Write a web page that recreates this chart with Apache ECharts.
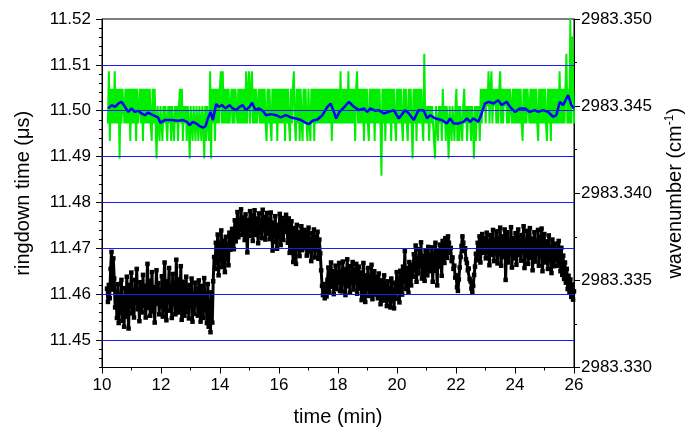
<!DOCTYPE html>
<html>
<head>
<meta charset="utf-8">
<title>ringdown time / wavenumber</title>
<script src="https://cdn.jsdelivr.net/npm/echarts@6/dist/echarts.min.js"></script>
<style>
  html, body { margin: 0; padding: 0; background: #fff; }
  #chart { width: 693px; height: 435px; }
</style>
</head>
<body>
<div id="chart"></div>
<script>
// axis ticks
const ringdownTicks = [11.45, 11.46, 11.47, 11.48, 11.49, 11.50, 11.51, 11.52]
const gridLevels = [11.45, 11.46, 11.47, 11.48, 11.49, 11.50, 11.51]

// ringdown time (μs), black squares, evenly sampled from ringdownStart (min)
const ringdownStart = 10.17
const ringdownStep = 0.0305
const ringdownTime = [
  11.4612, 11.4583, 11.4620, 11.4591, 11.4655, 11.4692, 11.4610, 11.4678, 11.4634, 11.4571, 11.4605, 11.4548, 11.4622, 11.4537, 11.4596, 11.4560, 11.4631, 11.4542, 11.4584, 11.4529,
  11.4613, 11.4551, 11.4638, 11.4572, 11.4525, 11.4620, 11.4589, 11.4647, 11.4558, 11.4603, 11.4549, 11.4631, 11.4580, 11.4655, 11.4567, 11.4610, 11.4541, 11.4626, 11.4594, 11.4560,
  11.4642, 11.4575, 11.4618, 11.4549, 11.4603, 11.4666, 11.4570, 11.4629, 11.4553, 11.4591, 11.4648, 11.4562, 11.4615, 11.4538, 11.4600, 11.4652, 11.4579, 11.4624, 11.4556, 11.4608,
  11.4573, 11.4639, 11.4551, 11.4617, 11.4669, 11.4586, 11.4543, 11.4628, 11.4597, 11.4657, 11.4564, 11.4611, 11.4548, 11.4644, 11.4580, 11.4622, 11.4556, 11.4675, 11.4593, 11.4560,
  11.4632, 11.4568, 11.4661, 11.4544, 11.4602, 11.4627, 11.4553, 11.4590, 11.4638, 11.4561, 11.4609, 11.4547, 11.4620, 11.4575, 11.4634, 11.4540, 11.4598, 11.4557, 11.4625, 11.4583,
  11.4612, 11.4553, 11.4630, 11.4571, 11.4540, 11.4618, 11.4589, 11.4548, 11.4635, 11.4566, 11.4601, 11.4537, 11.4622, 11.4529, 11.4585, 11.4517, 11.4604, 11.4538, 11.4628, 11.4681,
  11.4655, 11.4712, 11.4668, 11.4730, 11.4641, 11.4703, 11.4682, 11.4739, 11.4659, 11.4716, 11.4692, 11.4648, 11.4725, 11.4676, 11.4708, 11.4663, 11.4734, 11.4697, 11.4718, 11.4742,
  11.4742, 11.4698, 11.4761, 11.4715, 11.4733, 11.4779, 11.4724, 11.4758, 11.4741, 11.4785, 11.4729, 11.4767, 11.4748, 11.4718, 11.4774, 11.4736, 11.4691, 11.4762, 11.4727, 11.4781,
  11.4739, 11.4772, 11.4716, 11.4758, 11.4783, 11.4729, 11.4765, 11.4745, 11.4711, 11.4776, 11.4734, 11.4760, 11.4722, 11.4784, 11.4743, 11.4768, 11.4719, 11.4752, 11.4777, 11.4731,
  11.4762, 11.4720, 11.4778, 11.4741, 11.4695, 11.4756, 11.4732, 11.4770, 11.4714, 11.4699, 11.4751, 11.4728, 11.4775, 11.4707, 11.4745, 11.4766, 11.4718, 11.4759, 11.4736, 11.4773,
  11.4748, 11.4712, 11.4765, 11.4690, 11.4737, 11.4759, 11.4703, 11.4670, 11.4744, 11.4722, 11.4666, 11.4751, 11.4709, 11.4735, 11.4683, 11.4727, 11.4748, 11.4696, 11.4719, 11.4740,
  11.4701, 11.4738, 11.4684, 11.4722, 11.4745, 11.4693, 11.4716, 11.4672, 11.4733, 11.4707, 11.4741, 11.4680, 11.4725, 11.4698, 11.4736, 11.4677, 11.4719, 11.4689, 11.4652, 11.4618,
  11.4598, 11.4622, 11.4591, 11.4609, 11.4595, 11.4631, 11.4658, 11.4604, 11.4642, 11.4669, 11.4616, 11.4650, 11.4600, 11.4637, 11.4662, 11.4611, 11.4646, 11.4625, 11.4668, 11.4607,
  11.4648, 11.4606, 11.4671, 11.4629, 11.4654, 11.4598, 11.4640, 11.4676, 11.4617, 11.4661, 11.4603, 11.4645, 11.4632, 11.4670, 11.4610, 11.4653, 11.4624, 11.4666, 11.4601, 11.4639,
  11.4660, 11.4612, 11.4647, 11.4587, 11.4635, 11.4668, 11.4602, 11.4583, 11.4641, 11.4619, 11.4657, 11.4596, 11.4631, 11.4606, 11.4664, 11.4589, 11.4626, 11.4650, 11.4599, 11.4638,
  11.4622, 11.4591, 11.4645, 11.4603, 11.4578, 11.4630, 11.4612, 11.4586, 11.4641, 11.4597, 11.4619, 11.4574, 11.4628, 11.4593, 11.4608, 11.4571, 11.4634, 11.4587, 11.4600, 11.4569,
  11.4625, 11.4590, 11.4648, 11.4604, 11.4636, 11.4582, 11.4651, 11.4617, 11.4599, 11.4660, 11.4628, 11.4694, 11.4611, 11.4657, 11.4632, 11.4603, 11.4670, 11.4641, 11.4619, 11.4664,
  11.4638, 11.4687, 11.4652, 11.4706, 11.4627, 11.4675, 11.4645, 11.4698, 11.4661, 11.4713, 11.4634, 11.4684, 11.4658, 11.4629, 11.4695, 11.4668, 11.4641, 11.4703, 11.4650, 11.4679,
  11.4664, 11.4702, 11.4627, 11.4688, 11.4651, 11.4712, 11.4674, 11.4619, 11.4695, 11.4660, 11.4708, 11.4683, 11.4640, 11.4716, 11.4692, 11.4668, 11.4722, 11.4701, 11.4679, 11.4726,
  11.4712, 11.4690, 11.4701, 11.4672, 11.4680, 11.4655, 11.4662, 11.4636, 11.4641, 11.4615, 11.4607, 11.4632, 11.4658, 11.4681, 11.4705, 11.4726, 11.4712, 11.4694, 11.4700, 11.4676,
  11.4668, 11.4652, 11.4656, 11.4633, 11.4628, 11.4612, 11.4605, 11.4618, 11.4642, 11.4660, 11.4688, 11.4674, 11.4712, 11.4685, 11.4726, 11.4669, 11.4708, 11.4731, 11.4690, 11.4715,
  11.4722, 11.4678, 11.4734, 11.4696, 11.4715, 11.4663, 11.4729, 11.4705, 11.4686, 11.4740, 11.4672, 11.4711, 11.4693, 11.4737, 11.4667, 11.4720, 11.4699, 11.4745, 11.4662, 11.4708,
  11.4726, 11.4681, 11.4741, 11.4631, 11.4703, 11.4735, 11.4669, 11.4714, 11.4690, 11.4746, 11.4658, 11.4722, 11.4697, 11.4678, 11.4733, 11.4664, 11.4710, 11.4741, 11.4685, 11.4718,
  11.4673, 11.4729, 11.4692, 11.4748, 11.4657, 11.4716, 11.4685, 11.4738, 11.4666, 11.4705, 11.4744, 11.4679, 11.4721, 11.4652, 11.4700, 11.4735, 11.4671, 11.4713, 11.4689, 11.4740,
  11.4662, 11.4724, 11.4683, 11.4743, 11.4650, 11.4707, 11.4731, 11.4669, 11.4715, 11.4691, 11.4655, 11.4728, 11.4678, 11.4702, 11.4646, 11.4719, 11.4687, 11.4661, 11.4710, 11.4675,
  11.4698, 11.4662, 11.4716, 11.4673, 11.4650, 11.4701, 11.4642, 11.4684, 11.4633, 11.4669, 11.4625, 11.4655, 11.4611, 11.4640, 11.4603, 11.4632, 11.4594, 11.4621, 11.4588, 11.4606
]

// wavemeter reading (cm-1), green, evenly sampled from wavenumberStart (min)
const wavenumberStart = 10.2
const wavenumberStep = 0.033
const wavenumberRaw = [
  2983.344, 2983.347, 2983.343, 2983.346, 2983.344, 2983.346, 2983.344, 2983.347, 2983.344, 2983.346, 2983.344, 2983.346, 2983.342, 2983.346, 2983.344, 2983.346, 2983.345, 2983.344, 2983.346, 2983.344,
  2983.346, 2983.344, 2983.346, 2983.343, 2983.346, 2983.344, 2983.346, 2983.344, 2983.346, 2983.343, 2983.346, 2983.344, 2983.345, 2983.346, 2983.344, 2983.346, 2983.343, 2983.346, 2983.344, 2983.346,
  2983.344, 2983.346, 2983.344, 2983.346, 2983.344, 2983.343, 2983.346, 2983.344, 2983.346, 2983.344, 2983.342, 2983.345, 2983.344, 2983.343, 2983.345, 2983.344, 2983.343, 2983.345, 2983.344, 2983.345,
  2983.344, 2983.343, 2983.345, 2983.344, 2983.345, 2983.343, 2983.345, 2983.344, 2983.343, 2983.345, 2983.344, 2983.345, 2983.343, 2983.345, 2983.346, 2983.344, 2983.346, 2983.343, 2983.345, 2983.344,
  2983.345, 2983.343, 2983.345, 2983.344, 2983.342, 2983.345, 2983.344, 2983.343, 2983.345, 2983.344, 2983.343, 2983.345, 2983.344, 2983.343, 2983.345, 2983.344, 2983.343, 2983.345, 2983.344, 2983.342,
  2983.345, 2983.343, 2983.345, 2983.344, 2983.343, 2983.347, 2983.342, 2983.346, 2983.344, 2983.346, 2983.343, 2983.346, 2983.344, 2983.346, 2983.344, 2983.346, 2983.347, 2983.344, 2983.347, 2983.344,
  2983.346, 2983.344, 2983.346, 2983.344, 2983.346, 2983.344, 2983.345, 2983.346, 2983.344, 2983.346, 2983.344, 2983.346, 2983.345, 2983.344, 2983.346, 2983.344, 2983.346, 2983.344, 2983.346, 2983.344,
  2983.346, 2983.344, 2983.347, 2983.344, 2983.346, 2983.347, 2983.344, 2983.346, 2983.347, 2983.344, 2983.346, 2983.344, 2983.346, 2983.344, 2983.345, 2983.346, 2983.344, 2983.346, 2983.344, 2983.346,
  2983.344, 2983.346, 2983.344, 2983.343, 2983.346, 2983.344, 2983.346, 2983.344, 2983.343, 2983.346, 2983.344, 2983.346, 2983.344, 2983.346, 2983.343, 2983.346, 2983.344, 2983.346, 2983.344, 2983.346,
  2983.344, 2983.346, 2983.343, 2983.346, 2983.344, 2983.346, 2983.344, 2983.343, 2983.346, 2983.344, 2983.346, 2983.347, 2983.344, 2983.343, 2983.346, 2983.344, 2983.346, 2983.343, 2983.346, 2983.344,
  2983.343, 2983.346, 2983.344, 2983.346, 2983.344, 2983.343, 2983.346, 2983.344, 2983.343, 2983.346, 2983.344, 2983.346, 2983.343, 2983.346, 2983.344, 2983.346, 2983.344, 2983.346, 2983.344, 2983.346,
  2983.344, 2983.346, 2983.344, 2983.346, 2983.344, 2983.346, 2983.344, 2983.346, 2983.344, 2983.346, 2983.343, 2983.346, 2983.344, 2983.346, 2983.344, 2983.346, 2983.344, 2983.346, 2983.344, 2983.347,
  2983.344, 2983.346, 2983.344, 2983.346, 2983.344, 2983.346, 2983.344, 2983.347, 2983.344, 2983.346, 2983.344, 2983.346, 2983.344, 2983.346, 2983.343, 2983.346, 2983.347, 2983.344, 2983.346, 2983.344,
  2983.346, 2983.344, 2983.346, 2983.343, 2983.346, 2983.344, 2983.346, 2983.344, 2983.343, 2983.346, 2983.344, 2983.346, 2983.344, 2983.346, 2983.343, 2983.346, 2983.344, 2983.346, 2983.344, 2983.346,
  2983.344, 2983.341, 2983.346, 2983.344, 2983.346, 2983.343, 2983.346, 2983.344, 2983.346, 2983.344, 2983.346, 2983.343, 2983.346, 2983.344, 2983.346, 2983.344, 2983.343, 2983.346, 2983.344, 2983.346,
  2983.344, 2983.346, 2983.344, 2983.343, 2983.346, 2983.344, 2983.346, 2983.344, 2983.343, 2983.346, 2983.344, 2983.346, 2983.344, 2983.342, 2983.346, 2983.344, 2983.346, 2983.343, 2983.346, 2983.344,
  2983.346, 2983.344, 2983.346, 2983.344, 2983.343, 2983.348, 2983.344, 2983.345, 2983.344, 2983.345, 2983.343, 2983.345, 2983.344, 2983.345, 2983.344, 2983.343, 2983.342, 2983.345, 2983.344, 2983.343,
  2983.345, 2983.344, 2983.345, 2983.343, 2983.346, 2983.344, 2983.345, 2983.343, 2983.345, 2983.344, 2983.342, 2983.345, 2983.344, 2983.343, 2983.345, 2983.344, 2983.343, 2983.345, 2983.346, 2983.343,
  2983.345, 2983.343, 2983.345, 2983.344, 2983.343, 2983.345, 2983.346, 2983.344, 2983.345, 2983.343, 2983.345, 2983.344, 2983.345, 2983.343, 2983.345, 2983.344, 2983.342, 2983.345, 2983.343, 2983.345,
  2983.344, 2983.345, 2983.343, 2983.346, 2983.344, 2983.346, 2983.345, 2983.346, 2983.344, 2983.346, 2983.345, 2983.347, 2983.344, 2983.346, 2983.347, 2983.344, 2983.346, 2983.345, 2983.346, 2983.344,
  2983.346, 2983.344, 2983.346, 2983.347, 2983.344, 2983.346, 2983.344, 2983.346, 2983.345, 2983.346, 2983.344, 2983.346, 2983.344, 2983.346, 2983.345, 2983.344, 2983.346, 2983.344, 2983.346, 2983.344,
  2983.346, 2983.344, 2983.346, 2983.344, 2983.346, 2983.344, 2983.343, 2983.346, 2983.344, 2983.346, 2983.344, 2983.346, 2983.345, 2983.344, 2983.346, 2983.344, 2983.346, 2983.344, 2983.346, 2983.344,
  2983.346, 2983.344, 2983.343, 2983.346, 2983.344, 2983.346, 2983.344, 2983.346, 2983.344, 2983.346, 2983.344, 2983.343, 2983.346, 2983.344, 2983.346, 2983.343, 2983.346, 2983.344, 2983.346, 2983.344,
  2983.346, 2983.344, 2983.346, 2983.344, 2983.347, 2983.344, 2983.346, 2983.344, 2983.346, 2983.344, 2983.346, 2983.348, 2983.344, 2983.346, 2983.344, 2983.350, 2983.344, 2983.349, 2983.346, 2983.344
]

// running average of the wavemeter reading (blue)
const avgTime = [
  10.21, 10.33, 10.44, 10.55, 10.66, 10.78, 10.89, 11.00, 11.11, 11.23, 11.34, 11.45, 11.56, 11.73, 11.90, 11.98,
  12.13, 12.35, 12.58, 12.75, 12.88, 12.97, 13.08, 13.20, 13.31, 13.42, 13.51, 13.59, 13.68, 13.76, 13.87, 13.96,
  14.07, 14.19, 14.32, 14.43, 14.55, 14.66, 14.77, 14.88, 15.00, 15.09, 15.20, 15.31, 15.45, 15.56, 15.73, 15.90,
  16.06, 16.23, 16.40, 16.57, 16.74, 16.91, 17.02, 17.13, 17.30, 17.47, 17.64, 17.75, 17.86, 17.94, 18.05, 18.20,
  18.37, 18.54, 18.71, 18.88, 18.99, 19.10, 19.27, 19.38, 19.55, 19.72, 19.89, 20.06, 20.28, 20.40, 20.57, 20.73,
  20.90, 21.02, 21.13, 21.30, 21.52, 21.69, 21.80, 21.92, 22.08, 22.25, 22.37, 22.48, 22.59, 22.76, 22.87, 22.98,
  23.10, 23.27, 23.43, 23.55, 23.72, 23.83, 24.00, 24.17, 24.33, 24.50, 24.67, 24.79, 24.95, 25.12, 25.29, 25.40,
  25.52, 25.63, 25.80, 25.91, 26.00
]
const avgWavenumber = [
  2983.34487, 2983.34506, 2983.34496, 2983.34515, 2983.34525, 2983.34496, 2983.34467, 2983.34487, 2983.34467, 2983.34473, 2983.34458, 2983.34448, 2983.34462, 2983.34448, 2983.34435, 2983.34404,
  2983.34420, 2983.34420, 2983.34416, 2983.34420, 2983.34410, 2983.34391, 2983.34410, 2983.34400, 2983.34385, 2983.34377, 2983.34385, 2983.34429, 2983.34467, 2983.34420, 2983.34512, 2983.34496,
  2983.34506, 2983.34487, 2983.34506, 2983.34487, 2983.34477, 2983.34496, 2983.34506, 2983.34477, 2983.34496, 2983.34519, 2983.34477, 2983.34487, 2983.34473, 2983.34448, 2983.34454, 2983.34448,
  2983.34435, 2983.34448, 2983.34435, 2983.34429, 2983.34420, 2983.34404, 2983.34397, 2983.34416, 2983.34423, 2983.34448, 2983.34496, 2983.34515, 2983.34467, 2983.34429, 2983.34467, 2983.34492,
  2983.34525, 2983.34496, 2983.34477, 2983.34487, 2983.34467, 2983.34487, 2983.34473, 2983.34477, 2983.34458, 2983.34467, 2983.34477, 2983.34429, 2983.34477, 2983.34458, 2983.34420, 2983.34477,
  2983.34477, 2983.34429, 2983.34448, 2983.34429, 2983.34420, 2983.34400, 2983.34429, 2983.34400, 2983.34400, 2983.34410, 2983.34429, 2983.34410, 2983.34429, 2983.34410, 2983.34458, 2983.34515,
  2983.34525, 2983.34515, 2983.34534, 2983.34506, 2983.34525, 2983.34496, 2983.34467, 2983.34487, 2983.34487, 2983.34467, 2983.34477, 2983.34467, 2983.34477, 2983.34467, 2983.34439, 2983.34448,
  2983.34525, 2983.34506, 2983.34563, 2983.34506, 2983.34487
]

const FONT = 'Liberation Sans, Arial, sans-serif'

const chart = echarts.init(document.getElementById('chart'), null, { renderer: 'canvas' })

const ringdownData = ringdownTime.map((v, i) => [ringdownStart + i * ringdownStep, v])
const rawData = wavenumberRaw.map((v, i) => [wavenumberStart + i * wavenumberStep, v])
const avgData = avgTime.map((t, i) => [t, avgWavenumber[i]])

chart.setOption({
  animation: false,
  backgroundColor: '#fff',
  textStyle: { fontFamily: FONT },
  grid: {
    left: 102, top: 19, width: 474, height: 348.5,
    show: true, borderColor: '#000', borderWidth: 1, backgroundColor: 'transparent'
  },
  xAxis: {
    type: 'value',
    min: 10, max: 26, interval: 2,
    name: 'time (min)',
    nameLocation: 'middle',
    nameGap: 40,
    nameTextStyle: { fontSize: 20, color: '#000', fontFamily: FONT },
    axisLine: { lineStyle: { color: '#000', width: 1 } },
    axisTick: { length: 6, lineStyle: { color: '#000' } },
    minorTick: { show: true, splitNumber: 2, length: 3, lineStyle: { color: '#000' } },
    axisLabel: { fontSize: 17, color: '#000', margin: 9, fontFamily: FONT },
    splitLine: { show: false }
  },
  yAxis: [
    {
      type: 'value',
      position: 'left',
      min: 11.444, max: 11.52,
      name: 'ringdown time (μs)',
      nameLocation: 'middle',
      nameRotate: 90,
      nameGap: 69,
      nameTextStyle: { fontSize: 20, color: '#000', fontFamily: FONT },
      axisLine: { show: true, lineStyle: { color: '#000', width: 1 } },
      axisTick: { show: true, customValues: ringdownTicks, length: 6, lineStyle: { color: '#000' } },
      axisLabel: {
        customValues: ringdownTicks, fontSize: 17, color: '#000', margin: 11, fontFamily: FONT,
        formatter: v => v.toFixed(2)
      },
      splitLine: { show: false }
    },
    {
      type: 'value',
      position: 'right',
      min: 2983.330, max: 2983.350, interval: 0.005,
      name: 'wavenumber (cm{sup|-1})',
      nameLocation: 'middle',
      nameRotate: 90,
      nameGap: 90,
      nameTextStyle: {
        fontSize: 20, color: '#000', fontFamily: FONT,
        rich: { sup: { fontSize: 12, color: '#000', fontFamily: FONT, padding: [0, 0, 10, 0] } }
      },
      axisLine: { show: true, lineStyle: { color: '#000', width: 1 } },
      axisTick: { length: 6, lineStyle: { color: '#000' } },
      minorTick: { show: true, splitNumber: 2, length: 3, lineStyle: { color: '#000' } },
      axisLabel: {
        fontSize: 17, color: '#000', margin: 7, fontFamily: FONT,
        formatter: v => v.toFixed(3)
      },
      splitLine: { show: false }
    },
    {
      // minor ticks of the ringdown axis
      type: 'value',
      position: 'left',
      min: 11.444, max: 11.52, interval: 0.002,
      axisLine: { show: false },
      axisTick: { show: true, length: 3, lineStyle: { color: '#000' } },
      axisLabel: { show: false },
      splitLine: { show: false }
    }
  ],
  series: [
    {
      name: 'grid',
      type: 'line',
      yAxisIndex: 0,
      data: [],
      z: 1,
      silent: true,
      markLine: {
        silent: true,
        symbol: 'none',
        label: { show: false },
        lineStyle: { color: '#1a1aff', width: 1, type: 'solid' },
        data: gridLevels.map(v => ({ yAxis: v }))
      }
    },
    {
      name: 'ringdown time',
      type: 'line',
      yAxisIndex: 0,
      data: ringdownData,
      z: 3,
      showSymbol: true,
      symbol: 'rect',
      symbolSize: 4.5,
      itemStyle: { color: '#000' },
      lineStyle: { color: '#000', width: 3 }
    },
    {
      name: 'wavenumber',
      type: 'line',
      yAxisIndex: 1,
      data: rawData,
      z: 3,
      showSymbol: false,
      lineStyle: { color: '#00ee00', width: 2 }
    },
    {
      name: 'wavenumber average',
      type: 'line',
      yAxisIndex: 1,
      data: avgData,
      z: 4,
      showSymbol: false,
      lineStyle: { color: '#0000ff', width: 2.5 }
    }
  ]
})
</script>
</body>
</html>
